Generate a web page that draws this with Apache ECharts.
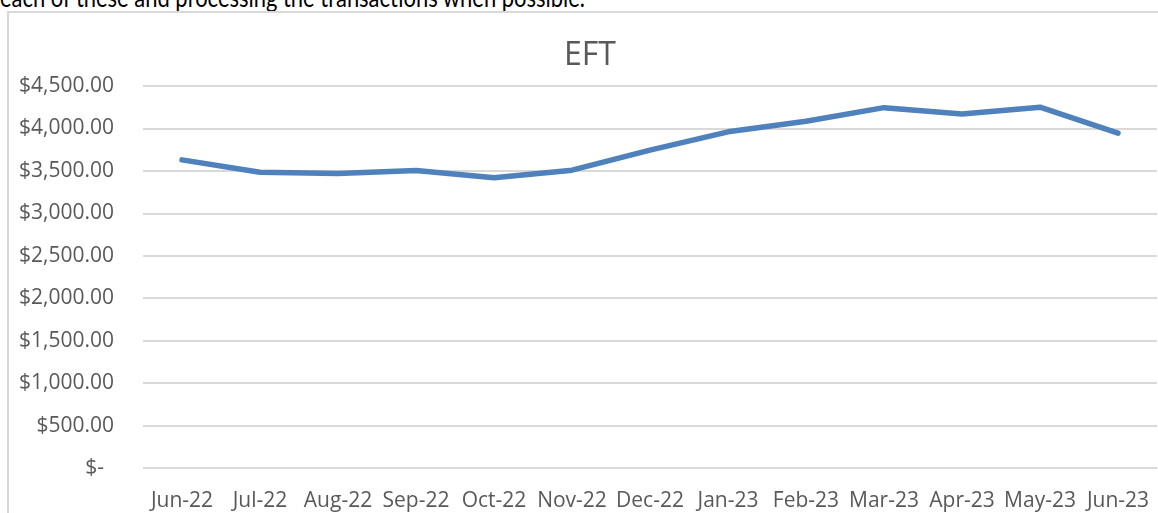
<!DOCTYPE html>
<html>
<head>
<meta charset="utf-8">
<script src="https://cdn.jsdelivr.net/npm/echarts@6/dist/echarts.min.js"></script>
<style>
  html, body { margin: 0; padding: 0; background: #fff; overflow: hidden; }
  #page { position: relative; width: 1158px; height: 513px; }
  #doctext { position: absolute; left: 0; top: -16px; font-family: "Lato", sans-serif; font-size: 26px; line-height: 26px; color: #000; white-space: nowrap; transform-origin: 0 0; }
  #frame { position: absolute; left: 7px; top: 11px; width: 1160px; height: 520px; border-left: 2px solid #d9d9d9; border-top: 2px solid #d9d9d9; box-sizing: border-box; }
  #chart { position: absolute; left: 0; top: 0; width: 1158px; height: 513px; }
</style>
</head>
<body>
<div id="page">
  <div id="doctext">each of these and processing the transactions when possible.</div>
  <div id="frame"></div>
  <div id="chart"></div>
</div>
<script>
const categories = ["Jun-22","Jul-22","Aug-22","Sep-22","Oct-22","Nov-22","Dec-22","Jan-23","Feb-23","Mar-23","Apr-23","May-23","Jun-23"];
const eftValues = [3630, 3483, 3470, 3505, 3420, 3508, 3745, 3960, 4085, 4245, 4170, 4250, 3945];
const yTicks = { min: 0, max: 4500, interval: 500 };

// fit the cut-off document line to its width in the reference
(function () {
  const el = document.getElementById("doctext");
  const w = el.getBoundingClientRect().width;
  el.style.transform = "scaleX(" + (585 / w) + ")";
})();

function fmt(v) {
  if (v === 0) return "{z|$-}";
  return "$" + v.toLocaleString("en-US", { minimumFractionDigits: 2, maximumFractionDigits: 2 });
}

const chart = echarts.init(document.getElementById("chart"), null, { renderer: "canvas" });
chart.setOption({
  animation: false,
  textStyle: { fontFamily: "Open Sans" },
  title: {
    text: "EFT",
    left: 585,
    top: 35,
    textAlign: "center",
    textStyle: { fontFamily: "Open Sans", fontSize: 32, fontWeight: "normal", color: "#595959" }
  },
  grid: { left: 143, right: 1, top: 86, bottom: 45, containLabel: false },
  xAxis: {
    type: "category",
    data: categories,
    boundaryGap: true,
    axisLine: { show: false },
    axisTick: { show: false },
    axisLabel: { color: "#595959", fontSize: 21, fontFamily: "Open Sans", margin: 23, interval: 0 }
  },
  yAxis: {
    type: "value",
    min: yTicks.min,
    max: yTicks.max,
    interval: yTicks.interval,
    axisLine: { show: false },
    axisTick: { show: false },
    splitLine: { lineStyle: { color: "#d9d9d9", width: 2 } },
    axisLabel: {
      color: "#595959", fontSize: 21, fontFamily: "Open Sans", margin: 29,
      formatter: fmt,
      rich: { z: { color: "#595959", fontSize: 21, fontFamily: "Open Sans", padding: [0, 10, 0, 0] } }
    }
  },
  series: [{
    name: "EFT",
    type: "line",
    data: eftValues,
    symbol: "none",
    lineStyle: { color: "#4f81bd", width: 5.5, cap: "round", join: "round" },
    itemStyle: { color: "#4f81bd" }
  }]
});
</script>
</body>
</html>
